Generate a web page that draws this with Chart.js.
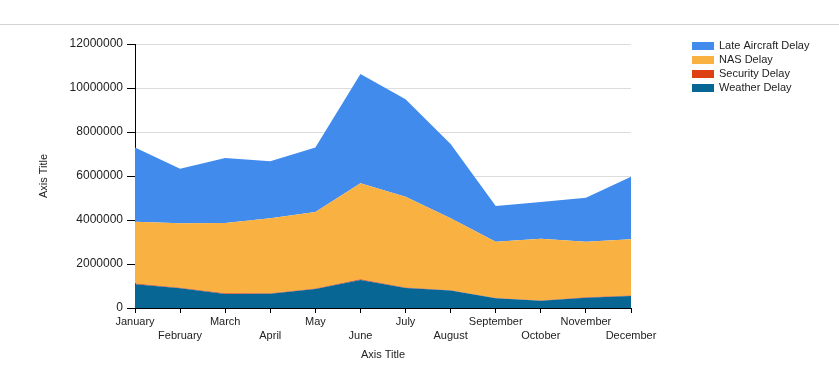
<!DOCTYPE html>
<html>
<head>
<meta charset="utf-8">
<script src="https://cdn.jsdelivr.net/npm/chart.js@4.4.1/dist/chart.umd.min.js"></script>
<style>
    html, body { margin: 0; padding: 0; background: #fff; }
    #wrap { width: 839px; height: 369px; position: relative; }
</style>
</head>
<body>
<div id="wrap"><canvas id="delayChart" width="839" height="369"></canvas></div>
<script>
// Chart data
const months = ['January', 'February', 'March', 'April', 'May', 'June', 'July', 'August', 'September', 'October', 'November', 'December'];
const weatherDelay = [1080000, 900000, 640000, 650000, 860000, 1270000, 910000, 790000, 440000, 330000, 470000, 550000];
const securityDelay = [28000, 18000, 25000, 19000, 26000, 32000, 27000, 22000, 12000, 16000, 13000, 18000];
const nasDelay = [2812000, 2932000, 3195000, 3411000, 3474000, 4368000, 4123000, 3268000, 2558000, 2804000, 2527000, 2552000];
const lateAircraftDelay = [3380000, 2480000, 2960000, 2590000, 2940000, 4970000, 4430000, 3370000, 1630000, 1670000, 2000000, 2850000];
const yTicks = [0, 2000000, 4000000, 6000000, 8000000, 10000000, 12000000];

const fontFamily = '"Liberation Sans", Arial, sans-serif';

// Top separator line + legend drawn on the canvas
const pagePlugin = {
    id: 'pagePlugin',
    beforeDraw: (chart) => {
        const ctx = chart.ctx;
        ctx.save();
        ctx.fillStyle = '#d3d3d3';
        ctx.fillRect(0, 24, chart.width, 1);
        ctx.restore();
    },
    afterDraw: (chart) => {
        const ctx = chart.ctx;
        const items = [...chart.data.datasets].reverse();
        ctx.save();
        ctx.font = '11px ' + fontFamily;
        ctx.textBaseline = 'middle';
        items.forEach((ds, i) => {
            const cy = 46 + i * 14;
            ctx.fillStyle = ds.backgroundColor;
            ctx.fillRect(692, cy - 4, 22, 8);
            ctx.fillStyle = '#222';
            ctx.fillText(ds.label, 719, cy);
        });
        ctx.restore();
    }
};

const ctx = document.getElementById('delayChart').getContext('2d');
const delayChart = new Chart(ctx, {
    type: 'line',
    data: {
        labels: months,
        datasets: [
            { label: 'Weather Delay', data: weatherDelay, backgroundColor: '#076693', fill: 'origin' },
            { label: 'Security Delay', data: securityDelay, backgroundColor: '#dd4113', fill: '-1' },
            { label: 'NAS Delay', data: nasDelay, backgroundColor: '#f9b241', fill: '-1' },
            { label: 'Late Aircraft Delay', data: lateAircraftDelay, backgroundColor: '#418bed', fill: '-1' }
        ].map(ds => Object.assign(ds, { borderWidth: 0, pointRadius: 0, tension: 0 }))
    },
    options: {
        responsive: false,
        animation: false,
        devicePixelRatio: 1,
        layout: { padding: { left: 0, top: 44, right: 208, bottom: 0 } },
        plugins: {
            legend: { display: false },
            tooltip: { enabled: false }
        },
        scales: {
            x: {
                afterFit: (scale) => { scale.height = 61; },
                border: { color: '#000', width: 1 },
                grid: { drawOnChartArea: false, drawTicks: true, tickLength: 5, tickColor: '#000' },
                ticks: {
                    autoSkip: false,
                    maxRotation: 0,
                    padding: 2,
                    color: '#222',
                    font: { family: fontFamily, size: 11, lineHeight: 14 / 11 },
                    callback: function (value, index) {
                        const label = this.getLabelForValue(value);
                        return index % 2 === 0 ? label : ['', label];
                    }
                },
                title: {
                    display: true,
                    text: 'Axis Title',
                    color: '#222',
                    font: { family: fontFamily, size: 11 },
                    padding: { top: 0, bottom: 7 }
                }
            },
            y: {
                stacked: true,
                min: 0,
                max: 12000000,
                afterFit: (scale) => { scale.width = 135; },
                afterBuildTicks: (scale) => { scale.ticks = yTicks.map(v => ({ value: v })); },
                border: { color: '#000', width: 1 },
                grid: { color: '#dcdcdc', drawTicks: true, tickLength: 8, tickColor: '#000' },
                ticks: {
                    padding: 4,
                    color: '#222',
                    font: { family: fontFamily, size: 12 },
                    callback: value => String(value)
                },
                title: {
                    display: true,
                    text: 'Axis Title',
                    color: '#222',
                    font: { family: fontFamily, size: 11 },
                    padding: { top: 37, bottom: 0 }
                }
            }
        }
    },
    plugins: [pagePlugin]
});
</script>
</body>
</html>
